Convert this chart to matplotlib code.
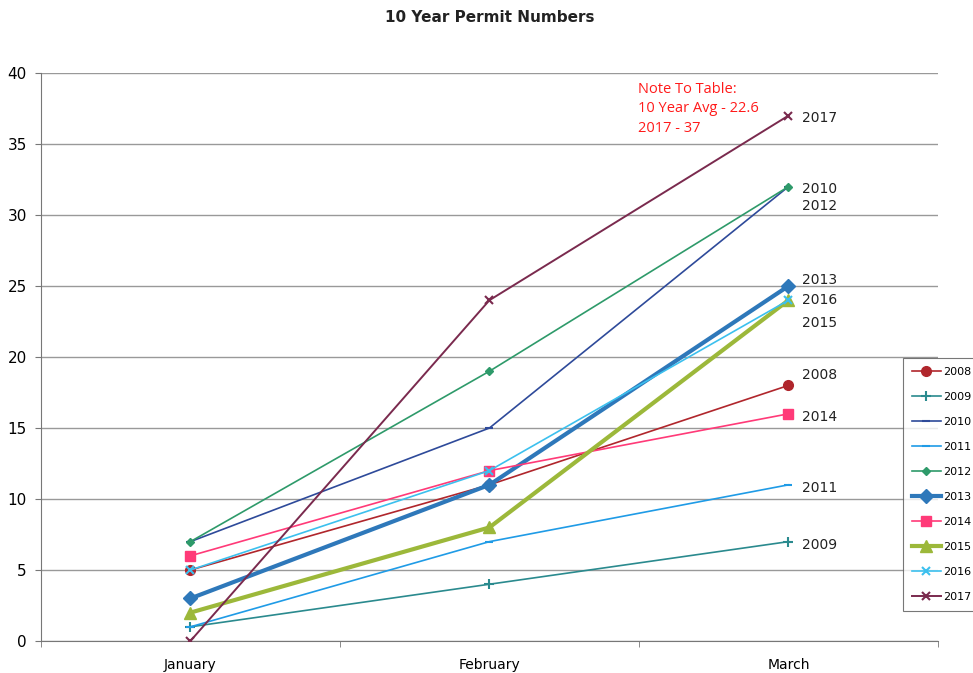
import matplotlib
matplotlib.use("Agg")
import matplotlib.pyplot as plt

months = ["January", "February", "March"]
years = ["2008", "2009", "2010", "2011", "2012", "2013", "2014", "2015", "2016", "2017"]
permits = {
    "2008": [5, 11, 18],
    "2009": [1, 4, 7],
    "2010": [7, 15, 32],
    "2011": [1, 7, 11],
    "2012": [7, 19, 32],
    "2013": [3, 11, 25],
    "2014": [6, 12, 16],
    "2015": [2, 8, 24],
    "2016": [5, 12, 24],
    "2017": [0, 24, 37],
}
note = "Note To Table:\n10 Year Avg - 22.6\n2017 - 37"

# colour, marker, marker size, line width, label offset (pixels) at March
styles = {
    "2008": ("#B0262C", "o", 7, 1.2, 10),
    "2009": ("#2A8A8E", "+", 7, 1.2, -3),
    "2010": ("#2E4A9A", "_", 6, 1.2, -2),
    "2011": ("#1F9BE6", "_", 6, 1.2, -3),
    "2012": ("#2E9A6A", "D", 4.5, 1.2, -19),
    "2013": ("#2E78BA", "D", 7.5, 3.0, 6),
    "2014": ("#FF3A78", "s", 7, 1.2, -3),
    "2015": ("#9CB83A", "^", 8.5, 3.0, -23),
    "2016": ("#3CC0EE", "x", 6, 1.2, 0),
    "2017": ("#7A2A4E", "x", 6, 1.4, -2),
}

fig = plt.figure(figsize=(9.73, 6.73), dpi=100)
ax = fig.add_axes([0.042, 0.0475, 0.922, 0.844])

x = list(range(len(months)))
handles = []
for yr in years:
    c, m, ms, lw, dy = styles[yr]
    h, = ax.plot(x, permits[yr], color=c, marker=m, markersize=ms, linewidth=lw,
                 markeredgewidth=1.5 if m in "+x_" else 1, label=yr, zorder=3)
    handles.append(h)
    ax.annotate(yr, (x[-1], permits[yr][-1]), xytext=(14, dy), textcoords="offset pixels",
                va="center", ha="left", fontsize=10, color="#222222")

ax.text(1.497, 39.4, note, color="#FF1A1A", fontsize=10.5, va="top", ha="left",
        family="Open Sans", fontweight="medium", linespacing=1.45)

ax.set_xlim(-0.5, 2.5)
ax.set_ylim(0, 40)
ax.set_yticks(range(0, 41, 5))
ax.set_xticks(x)
ax.set_xticklabels(months)
ax.set_xticks([-0.5, 0.5, 1.5, 2.5], minor=True)
ax.tick_params(axis="x", which="major", length=0, labelsize=10, pad=12)
ax.tick_params(axis="x", which="minor", length=4, color="#777777", direction="out")
ax.tick_params(axis="y", length=4, color="#777777", labelsize=11, pad=6, direction="out")
ax.grid(axis="y", color="#999999", linewidth=1)
ax.set_axisbelow(True)
for s in ["top", "right"]:
    ax.spines[s].set_visible(False)
for s in ["left", "bottom"]:
    ax.spines[s].set_color("#777777")

ax.set_title("10 Year Permit Numbers", fontsize=11, fontweight="bold", pad=37, color="#222222")

leg = fig.legend(handles=handles, loc="upper left", bbox_to_anchor=(0.928, 0.468),
                 fontsize=8, frameon=True, fancybox=False, edgecolor="#555555",
                 handlelength=2.6, labelspacing=1.35, borderpad=0.8, handletextpad=0.2,
                 borderaxespad=0)
leg.get_frame().set_linewidth(0.8)

fig.savefig("out.png", dpi=100)
